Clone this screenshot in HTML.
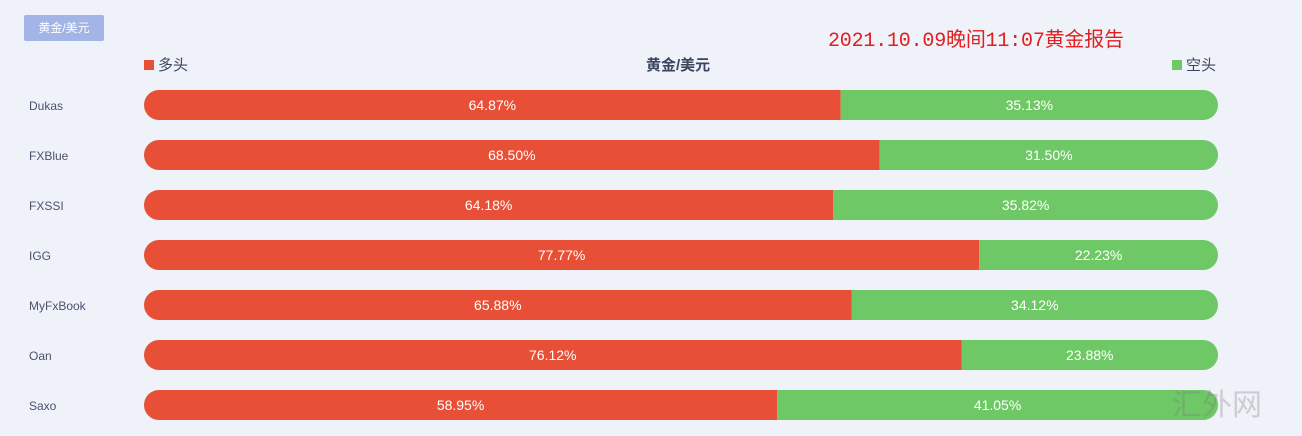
<!DOCTYPE html>
<html><head><meta charset="utf-8"><style>
body{margin:0;background:#eff2f9;width:1302px;height:436px;overflow:hidden;position:relative;font-family:"Liberation Sans","Noto Sans CJK SC",sans-serif}
.abs{position:absolute}
</style></head><body>
<div class="abs" style="left:24px;top:15px;width:80px;height:26px;background:#a3b4e6;border-radius:2px;color:#fff;font-size:12px;line-height:26px;text-align:center">黄金/美元</div>
<div class="abs" style="left:828px;top:23px;color:#e02020;font-size:20px;font-family:'Liberation Mono','Noto Sans CJK SC',monospace;letter-spacing:-0.2px">2021.10.09晚间11:07黄金报告</div>
<div class="abs" style="left:144px;top:54px;font-size:15px;color:#3c4560"><span style="display:inline-block;width:10px;height:10px;background:#e75036;margin-right:4px"></span>多头</div>
<div class="abs" style="left:646px;top:54px;font-size:15px;color:#3c4560;font-weight:bold">黄金/美元</div>
<div class="abs" style="left:1172px;top:54px;font-size:15px;color:#3c4560"><span style="display:inline-block;width:10px;height:10px;background:#6fc866;margin-right:4px"></span>空头</div>
<svg class="abs" style="left:0;top:0" width="1302" height="436" id="chart"></svg>
<div class="abs" style="left:1172px;top:380px;font-size:30px;color:rgba(120,120,120,0.3)">汇外网</div>
<script>
const brokers=["Dukas","FXBlue","FXSSI","IGG","MyFxBook","Oan","Saxo"];
const longPct=[64.87,68.50,64.18,77.77,65.88,76.12,58.95];
const shortPct=[35.13,31.50,35.82,22.23,34.12,23.88,41.05];
const ns="http://www.w3.org/2000/svg";
const svg=document.getElementById('chart');
const x0=144,x1=1218,y0=90,step=50,h=30;
const xs=v=>x0+(x1-x0)*v/100;
function mk(t,a){const e=document.createElementNS(ns,t);for(const k in a)e.setAttribute(k,a[k]);svg.appendChild(e);return e;}
const defs=mk('defs',{});
brokers.forEach((b,i)=>{
 const y=y0+i*step;
 const cp=document.createElementNS(ns,'clipPath');cp.setAttribute('id','c'+i);
 const r=document.createElementNS(ns,'rect');
 r.setAttribute('x',x0);r.setAttribute('y',y);r.setAttribute('width',x1-x0);r.setAttribute('height',h);r.setAttribute('rx',15);
 cp.appendChild(r);defs.appendChild(cp);
 const tot=longPct[i]+shortPct[i];
 const xm=xs(longPct[i]/tot*100);
 const lbl=mk('text',{x:29,y:y+20,'font-size':12,fill:'#4a5270'});lbl.textContent=b;
 
 
 const rl=mk('rect',{x:x0,y:y,width:xm-x0,height:h,fill:'#e75036','clip-path':'url(#c'+i+')'});
 
 
 const rs=mk('rect',{x:xm,y:y,width:x1-xm,height:h,fill:'#6fc866','clip-path':'url(#c'+i+')'});
 
 
 const tl=mk('text',{x:(x0+xm)/2,y:y+20,'font-size':14,fill:'#fff','text-anchor':'middle'});tl.textContent=longPct[i].toFixed(2)+'%';
 
 
 const ts=mk('text',{x:(xm+x1)/2,y:y+20,'font-size':14,fill:'#fff','text-anchor':'middle'});ts.textContent=shortPct[i].toFixed(2)+'%';
 
 
});
</script>
</body></html>
